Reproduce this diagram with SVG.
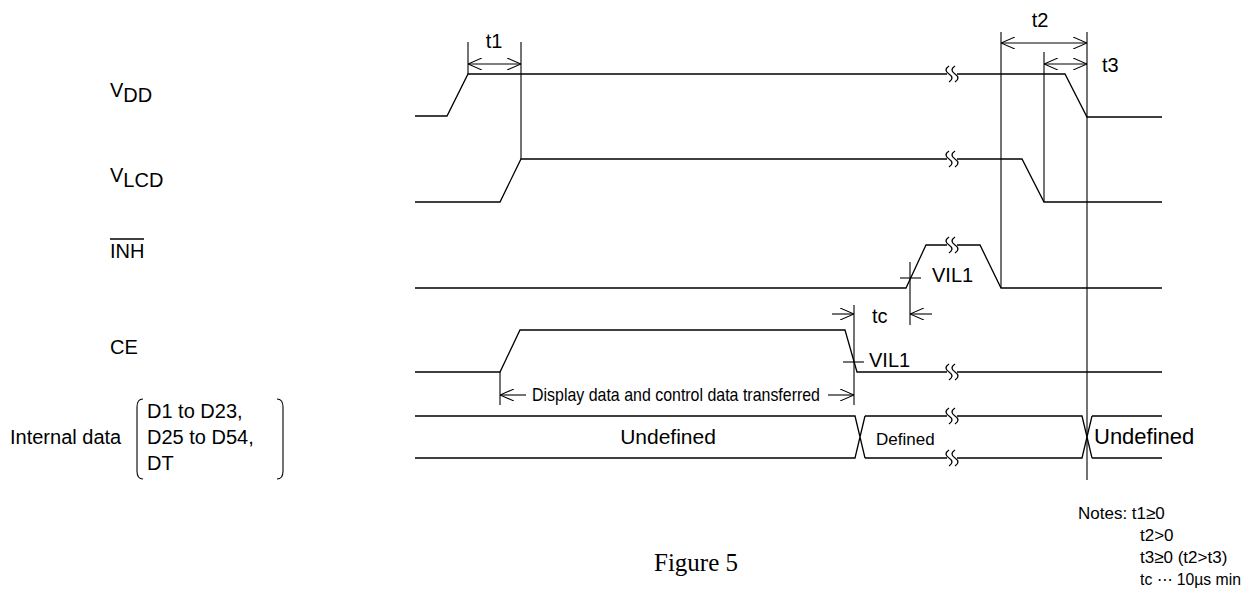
<svg xmlns="http://www.w3.org/2000/svg" width="1250" height="604" viewBox="0 0 1250 604">
<style>
.w{fill:none;stroke:#000;stroke-width:1.3}
.d{fill:none;stroke:#000;stroke-width:1.1}
.bk{fill:none;stroke:#000;stroke-width:1.3}
.br{fill:none;stroke:#000;stroke-width:1.1}
text{font-family:"Liberation Sans",Arial,sans-serif;fill:#000}
.l{font-size:20px}
.s{font-size:20px}
.n{font-size:17px}
.fig{font-family:"Liberation Serif","Times New Roman",serif;font-size:25px}
</style>
<defs>
<marker id="ah" viewBox="0 0 14 12" refX="14" refY="6" markerWidth="14" markerHeight="12" markerUnits="userSpaceOnUse" orient="auto-start-reverse">
<path d="M0,0 L14,6 L0,12" fill="none" stroke="#000" stroke-width="1.1"/>
</marker>
<path id="brk" d="M-3,-8 q-6,4 0,8 q6,4 0,8 M3,-8 q-6,4 0,8 q6,4 0,8"/>
</defs>
<rect width="1250" height="604" fill="#fff"/>

<g id="labels">
<g id="vdd-label"><text class="l" x="110" y="97">V<tspan dy="5">DD</tspan></text></g>
<g id="vlcd-label"><text class="l" x="110" y="182">V<tspan dy="5">LCD</tspan></text></g>
<g id="inh-label"><text class="l" x="110" y="258">INH</text><line x1="110" y1="239" x2="144" y2="239" stroke="#000" stroke-width="1.3"/></g>
<g id="ce-label"><text class="l" x="110" y="354">CE</text></g>
<g id="internal-label">
<text class="l" x="10" y="444">Internal data</text>
<path class="br" d="M143,399 Q137,399 137,407 L137,471 Q137,479 143,479"/>
<path class="br" d="M277,399 Q283,399 283,407 L283,471 Q283,479 277,479"/>
<text class="l" x="147" y="418">D1 to D23,</text>
<text class="l" x="147" y="444">D25 to D54,</text>
<text class="l" x="147" y="470">DT</text>
</g>
</g>

<g id="waveforms">
<g id="vdd"><path class="w" d="M415,116 L447,116 L468,74 L947,74 M957,74 L1065,74 L1087,117 L1162,117"/></g>
<g id="vlcd"><path class="w" d="M415,202 L500,202 L521,159 L947,159 M957,159 L1022,159 L1044,202 L1162,202"/></g>
<g id="inh"><path class="w" d="M415,288 L906,288 L926,245 L947,245 M957,245 L980,245 L1001,288 L1162,288"/></g>
<g id="ce"><path class="w" d="M415,372 L500,372 L520,330 L845,330 L857,372 L947,372 M957,372 L1162,372"/></g>
<g id="bus">
<path class="w" d="M415,416 L855,416 L865,458 M415,458 L855,458 L865,416"/>
<path class="w" d="M865,416 L947,416 M957,416 L1082,416 L1092,458 M865,458 L947,458 M957,458 L1082,458 L1092,416"/>
<path class="w" d="M1092,416 L1162,416 M1092,458 L1162,458"/>
<text x="668" y="444" font-size="21" text-anchor="middle">Undefined</text>
<text x="876" y="445" font-size="17">Defined</text>
<text x="1094" y="444" font-size="22">Undefined</text>
</g>
<g id="breaks" class="bk">
<use href="#brk" x="952" y="74"/>
<use href="#brk" x="952" y="159"/>
<use href="#brk" x="952" y="245"/>
<use href="#brk" x="952" y="372"/>
<use href="#brk" x="952" y="416"/>
<use href="#brk" x="952" y="458"/>
</g>
</g>

<g id="connectors">
<line class="d" x1="468" y1="42" x2="468" y2="74"/>
<line class="d" x1="521" y1="42" x2="521" y2="159"/>
<line class="d" x1="468" y1="64" x2="521" y2="64" marker-start="url(#ah)" marker-end="url(#ah)"/>
<line class="d" x1="1001" y1="32" x2="1001" y2="288"/>
<line class="d" x1="1087" y1="32" x2="1087" y2="480"/>
<line class="d" x1="1001" y1="43" x2="1087" y2="43" marker-start="url(#ah)" marker-end="url(#ah)"/>
<line class="d" x1="1044" y1="52" x2="1044" y2="202"/>
<line class="d" x1="1044" y1="64" x2="1087" y2="64" marker-start="url(#ah)" marker-end="url(#ah)"/>
<line class="d" x1="910" y1="262" x2="910" y2="325"/>
<line class="d" x1="900" y1="278" x2="921" y2="278"/>
<line class="d" x1="854" y1="305" x2="854" y2="405"/>
<line class="d" x1="843" y1="362" x2="864" y2="362"/>
<line class="d" x1="832" y1="314" x2="854" y2="314" marker-end="url(#ah)"/>
<line class="d" x1="932" y1="314" x2="910" y2="314" marker-end="url(#ah)"/>
<line class="d" x1="500" y1="372" x2="500" y2="405"/>
<line class="d" x1="526" y1="395" x2="500" y2="395" marker-end="url(#ah)"/>
<line class="d" x1="828" y1="395" x2="854" y2="395" marker-end="url(#ah)"/>
</g>

<g id="annotations">
<text class="s" x="494" y="48" text-anchor="middle">t1</text>
<text class="s" x="1040" y="27" text-anchor="middle">t2</text>
<text class="s" x="1102" y="72">t3</text>
<text class="s" x="872" y="323">tc</text>
<text class="s" x="932" y="282">VIL1</text>
<text class="s" x="869" y="367">VIL1</text>
<text x="676" y="401" font-size="19" text-anchor="middle" textLength="288" lengthAdjust="spacingAndGlyphs">Display data and control data transferred</text>
</g>

<g id="notes">
<text class="n" x="1078" y="519">Notes: t1≥0</text>
<text class="n" x="1140" y="541">t2&gt;0</text>
<text class="n" x="1140" y="563">t3≥0 (t2&gt;t3)</text>
<text class="n" x="1140" y="585" textLength="101" lengthAdjust="spacingAndGlyphs">tc ⋯ 10µs min</text>
</g>

<text class="fig" x="696" y="571" text-anchor="middle">Figure 5</text>
</svg>
